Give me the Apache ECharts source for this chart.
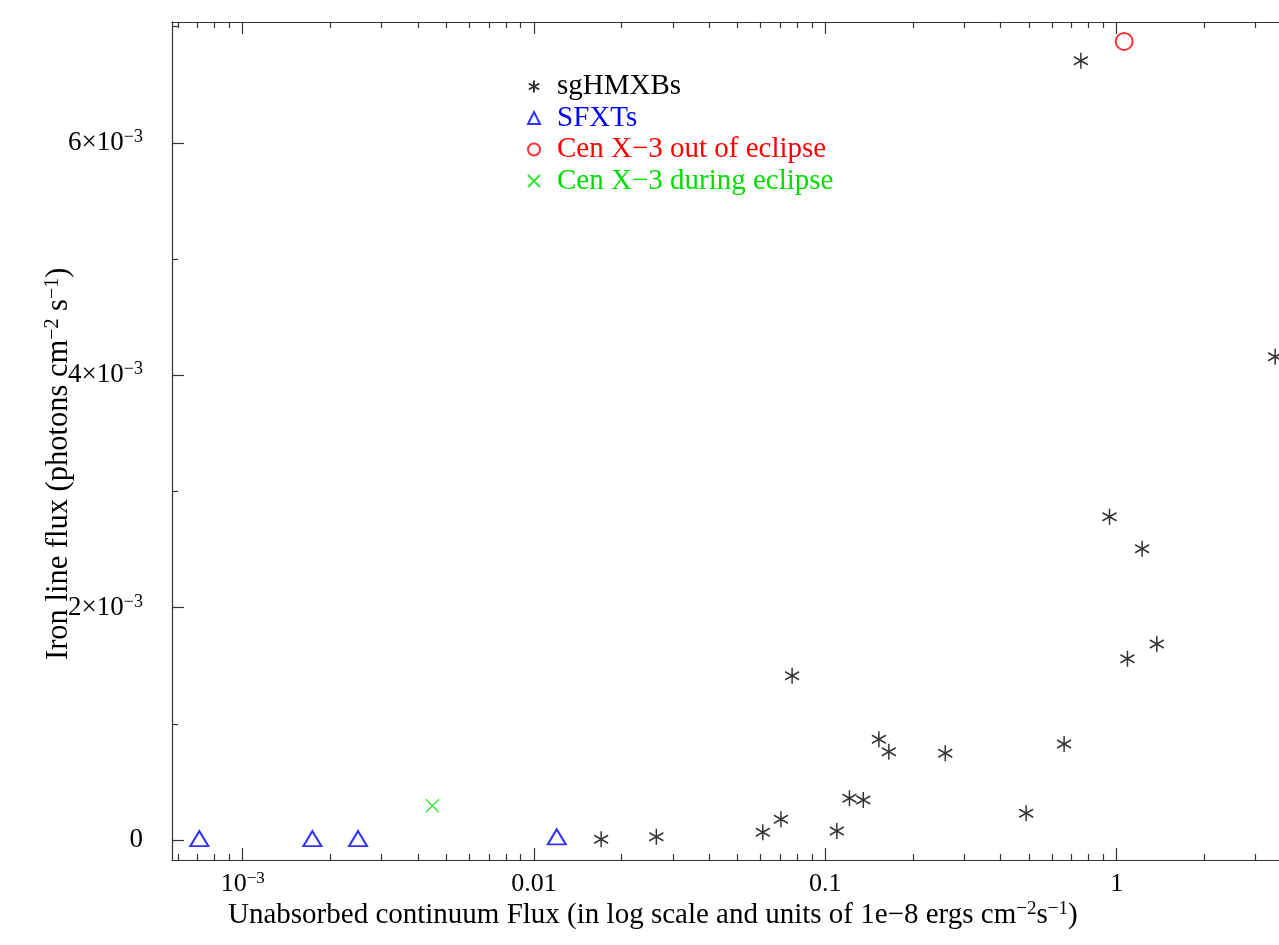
<!DOCTYPE html>
<html lang="en">
<head>
  <meta charset="UTF-8">
  <title>Iron line flux vs continuum flux</title>
  <script src="https://cdn.jsdelivr.net/npm/echarts@6/dist/echarts.min.js"></script>
  <style>
    html, body {
      margin: 0;
      padding: 0;
      background: #fff;
      overflow: hidden;
    }
    /* the plot runs past the right edge of the window, like the original */
    #chart {
      width: 1500px;
      height: 945px;
    }
  </style>
</head>
<body>
  <div id="chart"></div>
  <script>
    // unabsorbed continuum flux (1e-8 erg cm^-2 s^-1) and iron line flux (ph cm^-2 s^-1)
    const sgFlux = [0.0170, 0.0263, 0.0610, 0.0704, 0.0769, 0.1095, 0.121, 0.135, 0.1527, 0.1652,
      0.258, 0.489, 0.660, 0.7535, 0.945, 1.089, 1.223, 1.374, 3.50];
    const sgIron = [0.000006, 0.000028, 0.000066, 0.000178, 0.001414, 0.000077, 0.000359, 0.000344, 0.000867, 0.00076,
      0.000746, 0.00023, 0.000826, 0.006706, 0.002782, 0.00156, 0.002507, 0.001687, 0.004159];
    const sfxtFlux = [0.00071, 0.001735, 0.002489, 0.01197];
    const sfxtIron = [0.000012, 0.000012, 0.000012, 0.000027];
    const cenOutFlux = [1.061];
    const cenOutIron = [0.006873];
    const cenEclFlux = [0.00448];
    const cenEclIron = [0.000295];

    const xMajor = [0.001, 0.01, 0.1, 1, 10];
    const xMinor = [0.0006, 0.0007, 0.0008, 0.0009,
      0.002, 0.003, 0.004, 0.005, 0.006, 0.007, 0.008, 0.009,
      0.02, 0.03, 0.04, 0.05, 0.06, 0.07, 0.08, 0.09,
      0.2, 0.3, 0.4, 0.5, 0.6, 0.7, 0.8, 0.9,
      2, 3, 4, 5, 6, 7, 8, 9];
    const xLabels = ['{a|10}{s|−3}', '{a|0.01}', '{a|0.1}', '{a|1}', '{a|10}'];
    const yMajor = [0, 0.002, 0.004, 0.006];
    const yMinor = [0.001, 0.003, 0.005, 0.007];
    const yLabels = ['{a|0}', '{a|2×10}{s|−3}', '{a|4×10}{s|−3}', '{a|6×10}{s|−3}'];

    const FONT = 'Liberation Serif';
    const rich = {
      a: { fontFamily: FONT, fontSize: 26, color: '#000', lineHeight: 28 },
      s: { fontFamily: FONT, fontSize: 17, color: '#000', verticalAlign: 'top', lineHeight: 28, padding: [0, 0, 8, 0] }
    };
    const yRich = {
      a: { fontFamily: FONT, fontSize: 27, color: '#000', lineHeight: 29 },
      s: { fontFamily: FONT, fontSize: 18, color: '#000', verticalAlign: 'top', lineHeight: 29, padding: [0, 0, 8, 0] }
    };
    const titleRich = {
      a: { fontFamily: FONT, fontSize: 29, color: '#000', lineHeight: 31 },
      s: { fontFamily: FONT, fontSize: 19, color: '#000', verticalAlign: 'top', lineHeight: 31, padding: [0, 0, 9, 0] }
    };
    const yTitleRich = {
      a: { fontFamily: FONT, fontSize: 30.5, color: '#000', lineHeight: 32 },
      s: { fontFamily: FONT, fontSize: 20, color: '#000', verticalAlign: 'top', lineHeight: 32, padding: [0, 0, 9, 0] }
    };

    const zip = (xs, ys) => xs.map((x, i) => [x, ys[i]]);

    const xMin = 5.72e-4, xMax = 10;
    const yMin = -0.000172, yMax = 0.00704;
    const axisColor = '#333';

    function xAxis(pos, ticks, len, withLine, withLabel) {
      return {
        type: 'log', logBase: 10, position: pos, min: xMin, max: xMax,
        axisLine: { show: withLine, onZero: false, lineStyle: { color: axisColor, width: 1.2 } },
        axisTick: { show: true, inside: true, length: len, customValues: ticks, lineStyle: { color: axisColor, width: 1.2 } },
        axisLabel: {
          show: withLabel, customValues: xMajor, margin: 10, rich: rich,
          formatter: v => xLabels[xMajor.findIndex(m => Math.abs(m - v) / m < 1e-6)] || ''
        },
        splitLine: { show: false }
      };
    }
    function yAxis(pos, ticks, len, withLine, withLabel) {
      return {
        type: 'value', position: pos, min: yMin, max: yMax,
        axisLine: { show: withLine, onZero: false, lineStyle: { color: axisColor, width: 1.2 } },
        axisTick: { show: true, inside: true, length: len, customValues: ticks, lineStyle: { color: axisColor, width: 1.2 } },
        axisLabel: {
          show: withLabel, customValues: yMajor, margin: 29, rich: yRich,
          formatter: v => yLabels[yMajor.findIndex(m => Math.abs(m - v) < 1e-9)] || ''
        },
        splitLine: { show: false }
      };
    }

    const starPath = 'path://M7,0L7,16M0,4L14,12M0,12L14,4';
    const crossPath = 'path://M0,0L10,10M0,10L10,0';

    const chart = echarts.init(document.getElementById('chart'));
    chart.setOption({
      animation: false,
      backgroundColor: '#fff',
      grid: { left: 172, top: 22, right: 92, bottom: 85 },
      xAxis: [
        xAxis('bottom', xMajor, 12, true, true),
        xAxis('bottom', xMinor, 6, false, false),
        xAxis('top', xMajor, 12, true, false),
        xAxis('top', xMinor, 6, false, false)
      ],
      yAxis: [
        yAxis('left', yMajor, 12, true, true),
        yAxis('left', yMinor, 6, false, false),
        yAxis('right', yMajor, 12, true, false),
        yAxis('right', yMinor, 6, false, false)
      ],
      legend: {
        orient: 'vertical', left: 522, top: 66,
        itemWidth: 12, itemHeight: 12, itemGap: 0.5,
        selectedMode: false,
        textStyle: { fontFamily: FONT, fontSize: 29, lineHeight: 31, padding: [0, 0, 0, 12] },
        data: [
          { name: 'sgHMXBs', textStyle: { color: '#000' } },
          { name: 'SFXTs', textStyle: { color: '#0000ff' } },
          { name: 'Cen X−3 out of eclipse', textStyle: { color: '#ff0000' } },
          { name: 'Cen X−3 during eclipse', textStyle: { color: '#00dd00' } }
        ]
      },
      series: [
        {
          name: 'sgHMXBs', type: 'scatter', data: zip(sgFlux, sgIron),
          symbol: starPath, symbolSize: [14, 16],
          itemStyle: { color: 'transparent', borderColor: '#000', borderWidth: 1.6 }
        },
        {
          name: 'SFXTs', type: 'scatter', data: zip(sfxtFlux, sfxtIron),
          symbol: 'emptyTriangle', symbolSize: [18, 15],
          itemStyle: { color: '#0000ff', borderWidth: 1.3 }
        },
        {
          name: 'Cen X−3 out of eclipse', type: 'scatter', data: zip(cenOutFlux, cenOutIron),
          symbol: 'emptyCircle', symbolSize: 17,
          itemStyle: { color: '#ff0000', borderWidth: 1.3 }
        },
        {
          name: 'Cen X−3 during eclipse', type: 'scatter', data: zip(cenEclFlux, cenEclIron),
          symbol: crossPath, symbolSize: 13,
          itemStyle: { color: 'transparent', borderColor: '#00dd00', borderWidth: 1.3 }
        }
      ],
      graphic: [
        {
          type: 'text', left: 228, top: 900,
          style: {
            text: '{a|Unabsorbed continuum Flux (in log scale and units of 1e−8 ergs cm}{s|−2}{a|s}{s|−1}{a|)}',
            rich: titleRich
          }
        },
        {
          type: 'text', x: 43, y: 660, rotation: Math.PI / 2,
          style: {
            text: '{a|Iron line flux (photons cm}{s|−2}{a| s}{s|−1}{a|)}',
            rich: yTitleRich
          }
        }
      ]
    });
  </script>
</body>
</html>
